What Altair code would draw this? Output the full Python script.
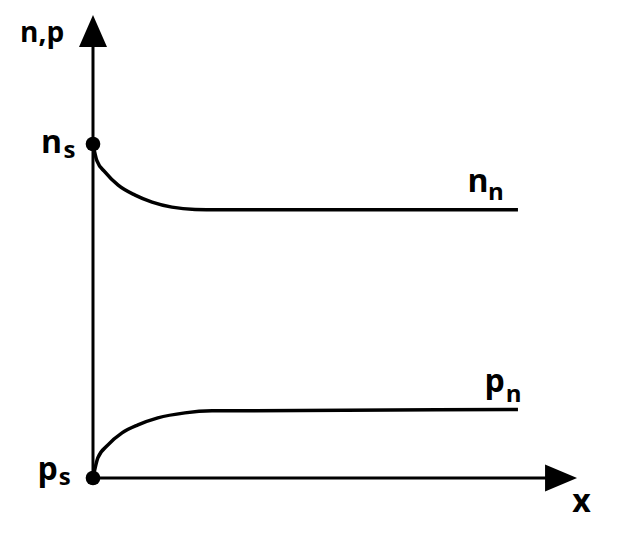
import altair as alt
import pandas as pd

# ---- data (arbitrary units: x along the junction, y = carrier concentration) ----
n_x = [0, 0.08, 0.25, 0.52, 0.87, 1.22, 1.63, 2.11, 2.58, 8.78]
n_y = [10, 9.50, 9.16, 8.77, 8.47, 8.26, 8.11, 8.04, 8.03, 8.03]
p_x = [0, 0.10, 0.31, 0.60, 0.93, 1.34, 1.90, 2.46, 8.78]
p_y = [0, 0.60, 0.99, 1.35, 1.59, 1.80, 1.95, 2.01, 2.05]
dot_x = [0, 0]
dot_y = [10, 0]           # n_s and p_s surface values

# annotations (data units)
main_text = ["n", "n", "p", "p"]
main_x = [-1.074, 7.74, 8.09, -1.147]
main_y = [9.73, 8.56, 2.57, -0.06]
sub_text = ["s", "n", "n", "s"]
sub_x = [-0.61, 8.16, 8.53, -0.71]
sub_y = [9.58, 8.32, 2.28, -0.21]

XDOM = [-1.756, 10.661]
YDOM = [-1.617, 14.072]

xs = alt.Scale(domain=XDOM, nice=False, zero=False)
ys = alt.Scale(domain=YDOM, nice=False, zero=False)

def X(f):
    return alt.X(f, type="quantitative", scale=xs, axis=None)

def Y(f):
    return alt.Y(f, type="quantitative", scale=ys, axis=None)

curves = pd.DataFrame({
    "x": n_x + p_x,
    "y": n_y + p_y,
    "s": ["n"] * len(n_x) + ["p"] * len(p_x),
})

line_layer = alt.Chart(curves).mark_line(
    color="black", strokeWidth=3.5, interpolate="monotone"
).encode(x=X("x"), y=Y("y"), detail="s:N")

axes_df = pd.DataFrame({"x": [0, 0], "x2": [0, 9.40], "y": [0, 0], "y2": [13.2, 0]})
axis_layer = alt.Chart(axes_df).mark_rule(color="black", strokeWidth=3).encode(
    x=X("x"), x2="x2", y=Y("y"), y2="y2"
)

up_arrow = alt.Chart(pd.DataFrame({"x": [0], "y": [13.38]})).mark_point(
    shape="M0,-1L0.875,1L-0.875,1Z", size=1024, filled=True, color="black",
    opacity=1, strokeWidth=0
).encode(x=X("x"), y=Y("y"))

right_arrow = alt.Chart(pd.DataFrame({"x": [9.67], "y": [0]})).mark_point(
    shape="M1,0L-1,-0.84L-1,0.84Z", size=1024, filled=True, color="black",
    opacity=1, strokeWidth=0
).encode(x=X("x"), y=Y("y"))

dots = alt.Chart(pd.DataFrame({"x": dot_x, "y": dot_y})).mark_circle(
    size=215, color="black", opacity=1
).encode(x=X("x"), y=Y("y"))

FONT = "Open Sans"
main_layer = alt.Chart(pd.DataFrame({"t": main_text, "x": main_x, "y": main_y})).mark_text(
    font=FONT, fontWeight="bold", fontSize=32, align="left", baseline="alphabetic", color="black"
).encode(x=X("x"), y=Y("y"), text="t:N")

sub_layer = alt.Chart(pd.DataFrame({"t": sub_text, "x": sub_x, "y": sub_y})).mark_text(
    font=FONT, fontWeight="bold", fontSize=24, align="left", baseline="alphabetic", color="black"
).encode(x=X("x"), y=Y("y"), text="t:N")

np_label = alt.Chart(pd.DataFrame({"t": ["n,p"], "x": [-1.508], "y": [13.05]})).mark_text(
    font=FONT, fontWeight="bold", fontSize=28, align="left", baseline="alphabetic", color="black"
).encode(x=X("x"), y=Y("y"), text="t:N")

x_label = alt.Chart(pd.DataFrame({"t": ["x"], "x": [9.90], "y": [-1.02]})).mark_text(
    font=FONT, fontWeight="bold", fontSize=32, align="left", baseline="alphabetic", color="black"
).encode(x=X("x"), y=Y("y"), text="t:N")

chart = alt.layer(
    axis_layer, up_arrow, right_arrow, line_layer, dots,
    main_layer, sub_layer, np_label, x_label
).properties(
    width=601, height=524, padding=0,
    autosize=alt.AutoSizeParams(type="fit", contains="padding"),
    background="white",
).configure_view(stroke=None)

chart.save("out.html", embed_options={"renderer": "svg", "actions": False})
